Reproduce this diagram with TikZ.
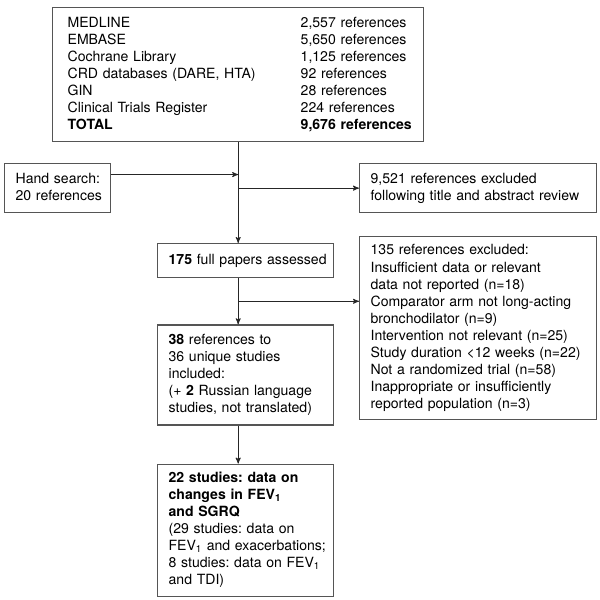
\documentclass[tikz,border=0pt]{standalone}
\usepackage{fontspec}
\setmainfont{TeX Gyre Heros}
\frenchspacing
\usetikzlibrary{arrows, positioning, calc}
\definecolor{my_gray}{RGB}{85, 85, 85}
\newcommand{\rows}[1]{\begin{tabular}{@{}l@{}}#1\end{tabular}}
\tikzset {
  box/.style = {draw=my_gray, line width=0.9pt, rectangle, align=left, inner xsep=0.275cm, inner ysep=0pt,
                font=\fontsize{10}{12.1}\selectfont},
  line/.style = {->, line width=0.6pt, color=black!85, >=stealth'},
}

\begin{document}
\begin{tikzpicture}[x=0.025cm, y=-0.025cm]
    \useasboundingbox (0,0) rectangle (600,600);

    % sources
    \node[box, anchor=north west, inner xsep=0.375cm, minimum width=9.275cm, minimum height=3.35cm, text width=8.525cm] (search) at (52,7)
      {\begin{tabular}{@{}p{5.825cm}@{}l@{}}
        MEDLINE & 2,557 references\\
        EMBASE & 5,650 references\\
        Cochrane Library & 1,125 references\\
        CRD databases (DARE, HTA) & 92 references\\
        GIN & 28 references\\
        Clinical Trials Register & 224 references\\
        \textbf{TOTAL} & \textbf{9,676 references}
      \end{tabular}};
    \node[box, anchor=north west, minimum width=2.65cm, minimum height=1.225cm, text width=2.1cm] (hand) at (4,163)
      {\rows{Hand search:\\20 references}};
    \node[box, anchor=north west, minimum width=5.925cm, minimum height=1.225cm, text width=5.375cm] (excl1) at (359,163)
      {\rows{9,521 references excluded\\following title and abstract review}};

    % screening
    \node[box, anchor=north west, minimum width=4.4cm, minimum height=0.85cm, text width=3.85cm] (full) at (157,243)
      {\rows{\textbf{175} full papers assessed}};
    \node[box, anchor=north west, minimum width=5.925cm, minimum height=4.575cm, text width=5.375cm] (excl2) at (359,236)
      {\rows{135 references excluded:\\Insufficient data or relevant\\data not reported (n=18)\\Comparator arm not long-acting\\bronchodilator (n=9)\\Intervention not relevant (n=25)\\Study duration <12 weeks (n=22)\\Not a randomized trial (n=58)\\Inappropriate or insufficiently\\reported population (n=3)}};
    \node[box, below=1.15cm of full, minimum width=4.4cm, minimum height=2.5cm, text width=3.85cm] (incl)
      {\rows{\textbf{38} references to\\36 unique studies\\included:\\(+ \textbf{2} Russian language\\studies, not translated)}};
    \node[box, below=0.95cm of incl, minimum width=4.4cm, minimum height=3.3cm, text width=3.85cm] (final)
      {\rows{\textbf{22 studies: data on}\\\textbf{changes in FEV\textsubscript{1}}\\\textbf{and SGRQ}\\(29 studies: data on\\FEV\textsubscript{1} and exacerbations;\\8 studies: data on FEV\textsubscript{1}\\and TDI)}};

    \coordinate (handin) at ([yshift=0.34cm]hand.east);
    \coordinate (split) at ($(full.south)!0.5!(incl.north)$);

    \draw[line] (search.south) -- (search.south |- full.north);
    \draw[line] (handin) -- (handin -| search.south);
    \draw[line] (excl1.west -| search.south) -- (excl1.west);
    \draw[line] (search.south |- full.south) -- (search.south |- incl.north);
    \draw[line] (split -| search.south) -- (split -| excl2.west);
    \draw[line] (search.south |- incl.south) -- (search.south |- final.north);

\end{tikzpicture}
\end{document}
